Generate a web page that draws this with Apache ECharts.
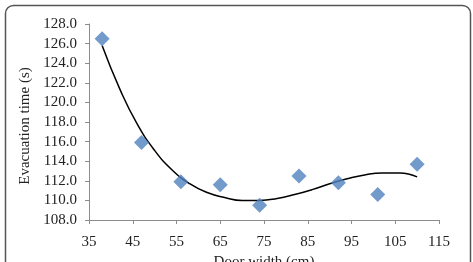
<!DOCTYPE html>
<html>
<head>
<meta charset="utf-8">
<script src="https://cdn.jsdelivr.net/npm/echarts@6/dist/echarts.min.js"></script>
<style>
  html, body { margin: 0; padding: 0; background: #fff; }
  #chart { width: 473px; height: 262px; }
</style>
</head>
<body>
<div id="chart"></div>
<script>
// measured points (door width, evacuation time)
const doorWidth = [38, 47, 56, 65, 74, 83, 92, 101, 110]
const evacTime = [126.5, 115.9, 111.9, 111.6, 109.5, 112.5, 111.8, 110.6, 113.7]

// trend line
const trendX = [38, 42, 46, 50, 54, 58, 62, 66, 70, 74, 78, 82, 86, 90, 94, 98, 102, 106, 110]
const trendY = [125.8, 121.4, 117.8, 115.1, 113.1, 111.7, 110.8, 110.3, 110.0, 110.0, 110.2, 110.6, 111.1, 111.7, 112.2, 112.6, 112.8, 112.8, 112.4]

const serif = 'Liberation Serif'
const axisGrey = '#8c8c8c'

const chart = echarts.init(document.getElementById('chart'))

const option = {
  animation: false,
  textStyle: { fontFamily: serif },
  // rounded frame around the whole figure
  graphic: [
    {
      type: 'rect',
      left: 3,
      top: 3,
      shape: { width: 465, height: 300, r: 8 },
      style: { fill: 'none', stroke: '#555', lineWidth: 1.5 },
      silent: true
    }
  ],
  grid: { left: 89, right: 34, top: 24, bottom: 42, outerBoundsMode: 'none' },
  xAxis: {
    type: 'value',
    min: 35,
    max: 115,
    interval: 10,
    name: 'Door width (cm)',
    nameLocation: 'middle',
    nameGap: 33,
    nameTextStyle: { fontFamily: serif, fontSize: 15, color: '#222' },
    axisLine: { lineStyle: { color: axisGrey, width: 1 } },
    axisTick: { show: true, length: 4, lineStyle: { color: axisGrey } },
    axisLabel: { fontFamily: serif, fontSize: 15, color: '#222', margin: 15 },
    splitLine: { show: false }
  },
  yAxis: {
    type: 'value',
    min: 108,
    max: 128,
    interval: 2,
    name: 'Evacuation time (s)',
    nameLocation: 'middle',
    nameGap: 43,
    // push the rotated title a little lower, like the original
    nameTextStyle: { fontFamily: serif, fontSize: 15, color: '#222', padding: [0, 8, 0, 0] },
    axisLine: { show: true, lineStyle: { color: axisGrey, width: 1 } },
    axisTick: { show: true, length: 4, lineStyle: { color: axisGrey } },
    axisLabel: {
      fontFamily: serif,
      fontSize: 15,
      color: '#222',
      margin: 12,
      formatter: v => v.toFixed(1)
    },
    splitLine: { show: false }
  },
  series: [
    {
      type: 'line',
      data: trendX.map((x, i) => [x, trendY[i]]),
      smooth: true,
      showSymbol: false,
      lineStyle: { color: '#000', width: 1.5 },
      z: 2
    },
    {
      type: 'scatter',
      data: doorWidth.map((x, i) => [x, evacTime[i]]),
      symbol: 'diamond',
      symbolSize: 15,
      itemStyle: { color: '#4F81BD' },
      z: 3
    }
  ]
}

chart.setOption(option)
</script>
</body>
</html>
